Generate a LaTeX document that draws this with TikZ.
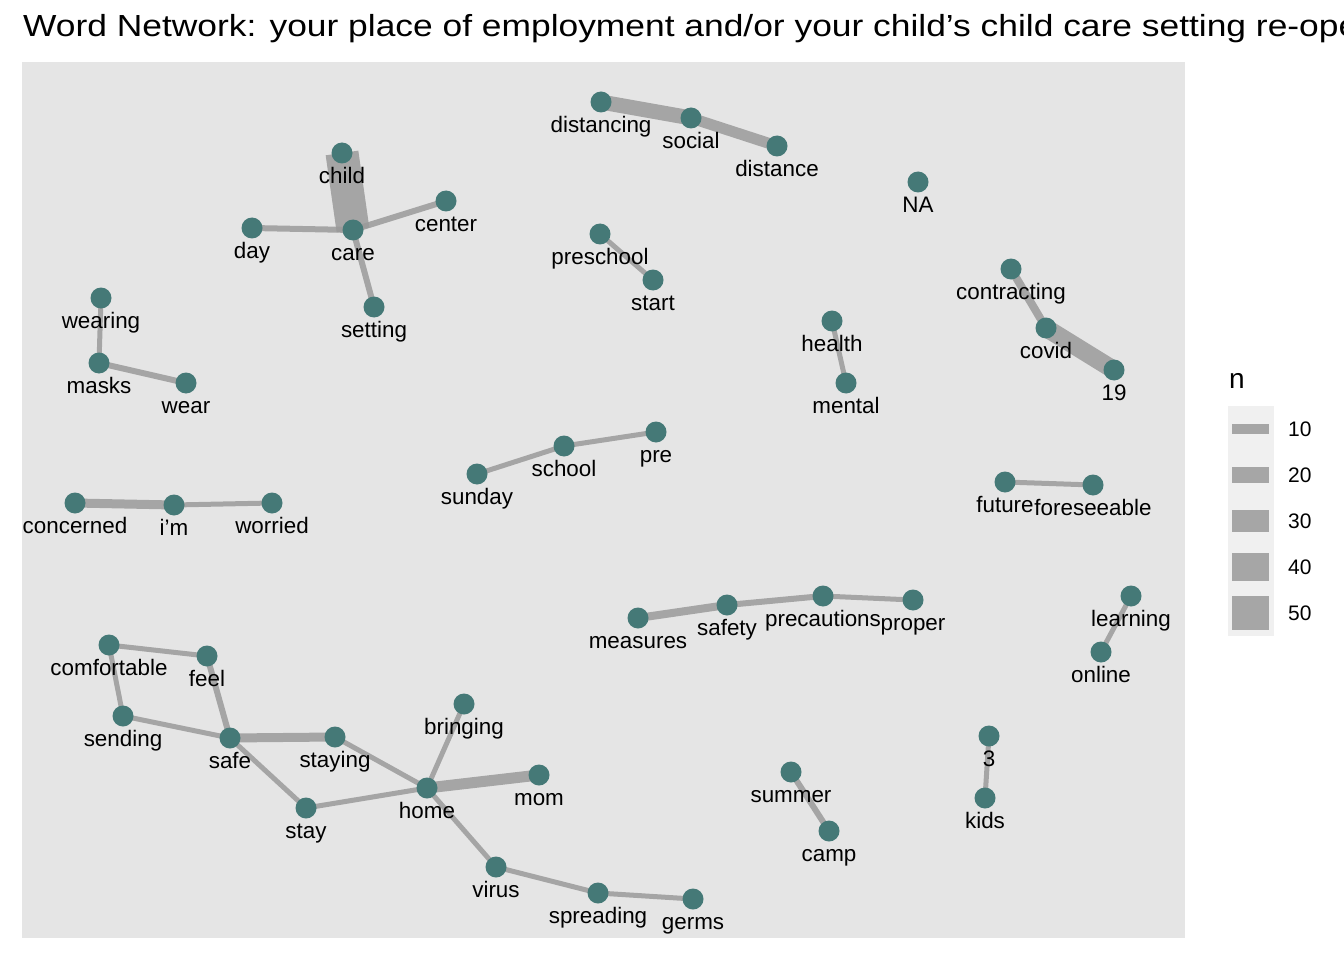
\documentclass[tikz,border=0pt]{standalone}
\usepackage{fontspec}
\setmainfont{Liberation Sans}
\usepackage{graphicx}
\usepackage{tikz}
\usetikzlibrary{backgrounds}
\definecolor{panelgray}{HTML}{E5E5E5}
\definecolor{keygray}{HTML}{F0F0F0}
\definecolor{edgegray}{HTML}{9A9A9A}
\definecolor{nodeteal}{RGB}{69,121,119}
\newcommand\lblfont{\fontsize{22.4}{26}\selectfont}
\tikzset{
  wnode/.style={circle, fill=nodeteal, minimum size=21pt, inner sep=0pt},
  lbl/.style={font=\lblfont, text height=16pt, text depth=5pt,
              inner sep=0pt, label distance=3.5pt},
  lnk/.style={draw=edgegray, draw opacity=0.85, line width=#1},
  lnk/.default=5pt,
}
\begin{document}
\begin{tikzpicture}[x=1pt, y=-1pt]
  \useasboundingbox (0,0) rectangle (1344,960);
  \clip (0,0) rectangle (1344,960);
  % words
  \node[wnode, label={[lbl]below:distancing}]  (distancing)  at (601,102) {};
  \node[wnode, label={[lbl]below:social}]      (social)      at (691,118) {};
  \node[wnode, label={[lbl]below:distance}]    (distance)    at (777,146) {};
  \node[wnode, label={[lbl]below:child}]       (child)       at (342,153) {};
  \node[wnode, label={[lbl]below:care}]        (care)        at (353,230) {};
  \node[wnode, label={[lbl]below:day}]         (day)         at (252,228) {};
  \node[wnode, label={[lbl]below:center}]      (center)      at (446,201) {};
  \node[wnode, label={[lbl]below:setting}]     (setting)     at (374,307) {};
  \node[wnode, label={[lbl]below:NA}]          (na)          at (918,182) {};
  \node[wnode, label={[lbl]below:preschool}]   (preschool)   at (600,234) {};
  \node[wnode, label={[lbl]below:start}]       (start)       at (653,280) {};
  \node[wnode, label={[lbl]below:contracting}] (contracting) at (1011,269) {};
  \node[wnode, label={[lbl]below:covid}]       (covid)       at (1046,328) {};
  \node[wnode, label={[lbl]below:19}]          (nineteen)    at (1114,370) {};
  \node[wnode, label={[lbl]below:health}]      (health)      at (832,321) {};
  \node[wnode, label={[lbl]below:mental}]      (mental)      at (846,383) {};
  \node[wnode, label={[lbl]below:wearing}]     (wearing)     at (101,298) {};
  \node[wnode, label={[lbl]below:masks}]       (masks)       at (99,363) {};
  \node[wnode, label={[lbl]below:wear}]        (wear)        at (186,383) {};
  \node[wnode, label={[lbl]below:sunday}]      (sunday)      at (477,474) {};
  \node[wnode, label={[lbl]below:school}]      (school)      at (564,446) {};
  \node[wnode, label={[lbl]below:pre}]         (pre)         at (656,432) {};
  \node[wnode, label={[lbl]below:future}]      (future)      at (1005,482) {};
  \node[wnode, label={[lbl]below:foreseeable}] (foreseeable) at (1093,485) {};
  \node[wnode, label={[lbl]below:concerned}]   (concerned)   at (75,503) {};
  \node[wnode, label={[lbl]below:i’m}]         (im)          at (174,505) {};
  \node[wnode, label={[lbl]below:worried}]     (worried)     at (272,503) {};
  \node[wnode, label={[lbl]below:measures}]    (measures)    at (638,618) {};
  \node[wnode, label={[lbl]below:safety}]      (safety)      at (727,605) {};
  \node[wnode, label={[lbl]below:precautions}] (precautions) at (823,596) {};
  \node[wnode, label={[lbl]below:proper}]      (proper)      at (913,600) {};
  \node[wnode, label={[lbl]below:learning}]    (learning)    at (1131,596) {};
  \node[wnode, label={[lbl]below:online}]      (online)      at (1101,652) {};
  \node[wnode, label={[lbl]below:comfortable}] (comfortable) at (109,645) {};
  \node[wnode, label={[lbl]below:feel}]        (feel)        at (207,656) {};
  \node[wnode, label={[lbl]below:sending}]     (sending)     at (123,716) {};
  \node[wnode, label={[lbl]below:safe}]        (safe)        at (230,738) {};
  \node[wnode, label={[lbl]below:staying}]     (staying)     at (335,737) {};
  \node[wnode, label={[lbl]below:stay}]        (stay)        at (306,808) {};
  \node[wnode, label={[lbl]below:home}]        (home)        at (427,788) {};
  \node[wnode, label={[lbl]below:bringing}]    (bringing)    at (464,704) {};
  \node[wnode, label={[lbl]below:mom}]         (mom)         at (539,775) {};
  \node[wnode, label={[lbl]below:3}]           (three)       at (989,736) {};
  \node[wnode, label={[lbl]below:kids}]        (kids)        at (985,798) {};
  \node[wnode, label={[lbl]below:summer}]      (summer)      at (791,772) {};
  \node[wnode, label={[lbl]below:camp}]        (camp)        at (829,831) {};
  \node[wnode, label={[lbl]below:virus}]       (virus)       at (496,867) {};
  \node[wnode, label={[lbl]below:spreading}]   (spreading)   at (598,893) {};
  \node[wnode, label={[lbl]below:germs}]       (germs)       at (693,899) {};
  % panel and links underneath
  \begin{scope}[on background layer]
    \fill[panelgray] (22,62) rectangle (1185,938);
    \draw[lnk=15pt] (distancing.center) -- (social.center);
    \draw[lnk=11pt] (social.center) -- (distance.center);
    \draw[lnk=33pt] (child.center) -- (care.center);
    \draw[lnk=6pt] (day.center) -- (care.center);
    \draw[lnk=6pt] (care.center) -- (center.center);
    \draw[lnk=6pt] (care.center) -- (setting.center);
    \draw[lnk] (preschool.center) -- (start.center);
    \draw[lnk=8pt] (contracting.center) -- (covid.center);
    \draw[lnk=18pt] (covid.center) -- (nineteen.center);
    \draw[lnk] (health.center) -- (mental.center);
    \draw[lnk] (wearing.center) -- (masks.center);
    \draw[lnk=6pt] (masks.center) -- (wear.center);
    \draw[lnk] (sunday.center) -- (school.center);
    \draw[lnk] (school.center) -- (pre.center);
    \draw[lnk] (future.center) -- (foreseeable.center);
    \draw[lnk=9pt] (concerned.center) -- (im.center);
    \draw[lnk] (im.center) -- (worried.center);
    \draw[lnk=8pt] (measures.center) -- (safety.center);
    \draw[lnk=6pt] (safety.center) -- (precautions.center);
    \draw[lnk] (precautions.center) -- (proper.center);
    \draw[lnk] (learning.center) -- (online.center);
    \draw[lnk] (comfortable.center) -- (feel.center);
    \draw[lnk] (comfortable.center) -- (sending.center);
    \draw[lnk] (sending.center) -- (safe.center);
    \draw[lnk=6pt] (feel.center) -- (safe.center);
    \draw[lnk=9pt] (safe.center) -- (staying.center);
    \draw[lnk] (safe.center) -- (stay.center);
    \draw[lnk] (staying.center) -- (home.center);
    \draw[lnk] (stay.center) -- (home.center);
    \draw[lnk] (home.center) -- (bringing.center);
    \draw[lnk=11pt] (home.center) -- (mom.center);
    \draw[lnk] (home.center) -- (virus.center);
    \draw[lnk] (virus.center) -- (spreading.center);
    \draw[lnk] (spreading.center) -- (germs.center);
    \draw[lnk] (three.center) -- (kids.center);
    \draw[lnk=6pt] (summer.center) -- (camp.center);
  \end{scope}
  % title
  \node[anchor=base west, inner sep=0pt, font=\fontsize{30.5}{34}\selectfont] (title) at (23,37)
    {\scalebox{1.16}[1]{Word Network: your place of employment and/or your child’s child care setting re-ope}};
  % legend
  \node[anchor=base west, inner sep=0pt, font=\fontsize{28}{32}\selectfont] (ntitle) at (1229,388) {n};
  \node[fill=keygray, minimum width=46pt, minimum height=230pt, inner sep=0pt] (keybox) at (1251,521) {};
  \foreach \v/\w [count=\i] in {10/10,20/16,30/22,40/28,50/34} {
    \coordinate (ka\i) at (1232,383+46*\i);
    \coordinate (kb\i) at (1269,383+46*\i);
    \draw[lnk=\w pt] (ka\i) -- (kb\i);
    \node[anchor=base west, inner sep=0pt, font=\fontsize{21}{24}\selectfont] (kl\i) at (1288,390.5+46*\i) {\v};
  }
\end{tikzpicture}
\end{document}
